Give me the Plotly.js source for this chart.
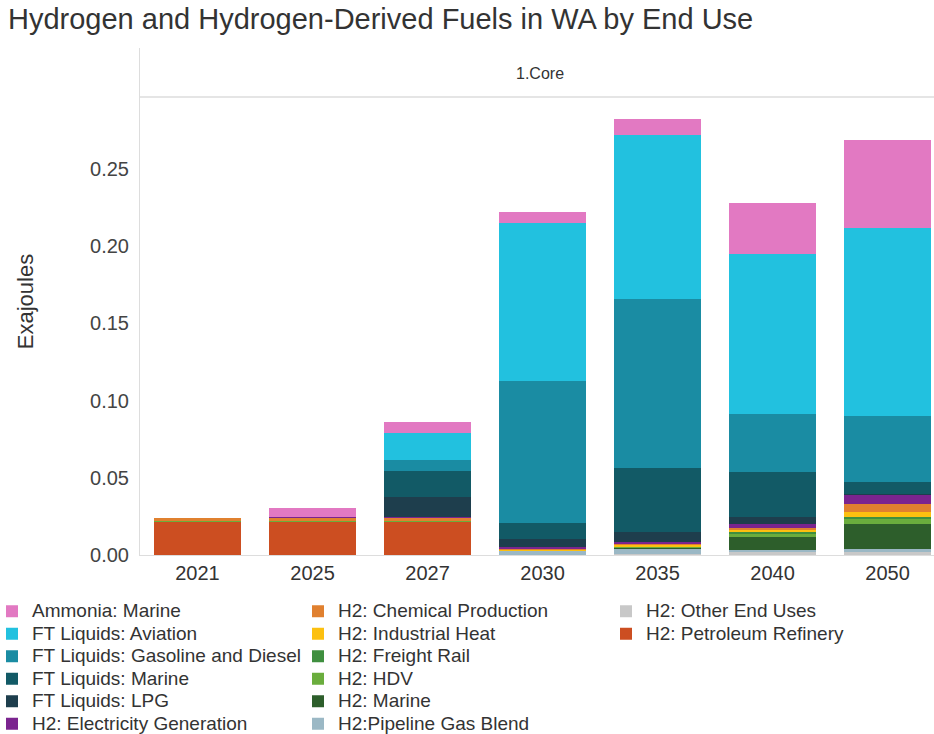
<!DOCTYPE html>
<html>
<head>
<meta charset="utf-8">
<script src="https://cdn.plot.ly/plotly-3.0.1.min.js"></script>
<style>html,body{margin:0;padding:0;background:#fff;}#chart{width:934px;height:734px;}</style>
</head>
<body>
<div id="chart"></div>
<script>
// ---- data (Exajoules) ----
const years = ['2021', '2025', '2027', '2030', '2035', '2040', '2050'];

const h2PetroleumRefinery   = [0.0216, 0.0216, 0.0216, 0,      0,      0.0003, 0.0003];
const h2OtherEndUses        = [0,      0,      0,      0,      0.0008, 0.0015, 0.0017];
const h2PipelineGasBlend    = [0,      0,      0,      0.0026, 0.0031, 0.0017, 0.0019];
const h2Marine              = [0,      0,      0,      0,      0.0004, 0.0082, 0.0164];
const h2HDV                 = [0.0003, 0.0003, 0.0003, 0.0002, 0.0006, 0.0019, 0.0030];
const h2FreightRail         = [0,      0,      0,      0,      0.0006, 0.0010, 0.0015];
const h2IndustrialHeat      = [0.0004, 0.0004, 0.0004, 0.0004, 0.0008, 0.0017, 0.0030];
const h2ChemicalProduction  = [0.0015, 0.0015, 0.0015, 0.0009, 0.0008, 0.0011, 0.0052];
const h2ElectricityGen      = [0,      0.0006, 0.0008, 0.0008, 0.0010, 0.0026, 0.0056];
const ftLPG                 = [0,      0,      0.0129, 0.0054, 0.0065, 0.0049, 0.0009];
const ftMarine              = [0,      0,      0.0170, 0.0104, 0.0417, 0.0287, 0.0078];
const ftGasolineDiesel      = [0,      0,      0.0071, 0.0921, 0.1096, 0.0375, 0.0425];
const ftAviation            = [0,      0,      0.0173, 0.1021, 0.1061, 0.1038, 0.1217];
const ammoniaMarine         = [0,      0.0060, 0.0069, 0.0069, 0.0104, 0.0328, 0.0570];

const yTickVals = [0, 0.05, 0.10, 0.15, 0.20, 0.25];

// ---- series (bottom of stack first) ----
const series = [
  {name: 'H2: Petroleum Refinery',          y: h2PetroleumRefinery,  color: '#cc4e21', legend: 'legend3'},
  {name: 'H2: Other End Uses',              y: h2OtherEndUses,       color: '#c8c8c8', legend: 'legend3'},
  {name: 'H2:Pipeline Gas Blend',           y: h2PipelineGasBlend,   color: '#9bb8c5', legend: 'legend2'},
  {name: 'H2: Marine',                      y: h2Marine,             color: '#2d5e2b', legend: 'legend2'},
  {name: 'H2: HDV',                         y: h2HDV,                color: '#6aad3d', legend: 'legend2'},
  {name: 'H2: Freight Rail',                y: h2FreightRail,        color: '#3f8f3f', legend: 'legend2'},
  {name: 'H2: Industrial Heat',             y: h2IndustrialHeat,     color: '#fcc010', legend: 'legend2'},
  {name: 'H2: Chemical Production',         y: h2ChemicalProduction, color: '#e0802f', legend: 'legend2'},
  {name: 'H2: Electricity Generation',      y: h2ElectricityGen,     color: '#7b248f', legend: 'legend'},
  {name: 'FT Liquids: LPG',                 y: ftLPG,                color: '#1e3e4d', legend: 'legend'},
  {name: 'FT Liquids: Marine',              y: ftMarine,             color: '#125a66', legend: 'legend'},
  {name: 'FT Liquids: Gasoline and Diesel', y: ftGasolineDiesel,     color: '#1a8ca3', legend: 'legend'},
  {name: 'FT Liquids: Aviation',            y: ftAviation,           color: '#22c1df', legend: 'legend'},
  {name: 'Ammonia: Marine',                 y: ammoniaMarine,        color: '#e279c2', legend: 'legend'}
];

const traces = series.map(s => ({
  type: 'bar',
  x: years,
  y: s.y,
  name: '<span style="font-size:19px">' + s.name + '</span>',
  marker: {color: s.color, line: {width: 0}},
  legend: s.legend,
  hovertemplate: s.name + ': %{y:.4f}<extra></extra>'
}));

const FONT = 'Liberation Sans, Arial, Helvetica, sans-serif';
const W = 934, H = 734;
const M = {l: 140, r: 0, t: 48, b: 179};
const plotW = W - M.l - M.r, plotH = H - M.t - M.b;
const px2x = px => (px - M.l) / plotW;
const px2y = py => (H - M.b - py) / plotH;

function legendAt(xpx) {
  return {
    x: px2x(xpx), xanchor: 'left',
    y: px2y(595), yanchor: 'top',
    orientation: 'v',
    traceorder: 'reversed',
    bgcolor: 'rgba(0,0,0,0)',
    borderwidth: 0,
    font: {family: FONT, size: 15, color: '#333333'}
  };
}

const layout = {
  width: W, height: H,
  margin: {l: M.l, r: M.r, t: M.t, b: M.b, autoexpand: false},
  paper_bgcolor: '#ffffff',
  plot_bgcolor: '#ffffff',
  font: {family: FONT, color: '#333333'},
  barmode: 'stack',
  bargap: 0.25,
  showlegend: true,
  title: {
    text: 'Hydrogen and Hydrogen-Derived Fuels in WA by End Use',
    x: 8 / W, xref: 'container', xanchor: 'left',
    y: 1 - 19 / H, yref: 'container', yanchor: 'middle',
    font: {family: FONT, size: 29, color: '#333333'}
  },
  xaxis: {
    type: 'category',
    range: [-0.5, 6.404],
    showgrid: false, zeroline: false,
    showline: true, linecolor: '#dddddd', linewidth: 1,
    ticks: '',
    tickfont: {family: FONT, size: 20, color: '#333333'},
    fixedrange: true
  },
  yaxis: {
    range: [0, plotH / 1545],
    tickvals: yTickVals,
    tickformat: '.2f',
    showgrid: false, zeroline: false,
    showline: true, linecolor: '#dddddd', linewidth: 1,
    ticks: '',
    ticklabelstandoff: 6,
    tickfont: {family: FONT, size: 20, color: '#444444'},
    title: {text: 'Exajoules', font: {family: FONT, size: 22, color: '#333333'}, standoff: 50},
    fixedrange: true
  },
  legend: legendAt(-8),
  legend2: legendAt(298),
  legend3: legendAt(606),
  shapes: [
    {type: 'line', xref: 'paper', yref: 'paper', x0: 0, x1: 1, y0: px2y(97), y1: px2y(97),
     line: {color: '#dcdcdc', width: 1.5}}
  ],
  annotations: [
    {text: '1.Core', xref: 'paper', yref: 'paper', x: px2x(540), y: px2y(73),
     xanchor: 'center', yanchor: 'middle', showarrow: false,
     font: {family: FONT, size: 16, color: '#333333'}}
  ]
};

Plotly.newPlot('chart', traces, layout, {displayModeBar: false, staticPlot: true});
</script>
</body>
</html>
